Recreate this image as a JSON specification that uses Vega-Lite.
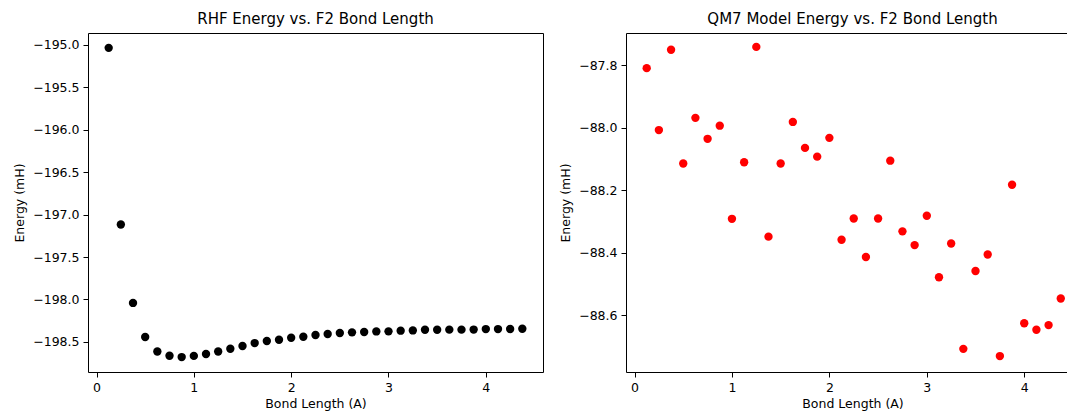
{
  "$schema": "https://vega.github.io/schema/vega-lite/v6.json",
  "padding": {"left": 13, "top": 11, "right": 0, "bottom": 0},
  "bounds": "flush",
  "spacing": 83,
  "background": "white",
  "config": {
    "font": "DejaVu Sans",
    "view": {"stroke": "#000000", "strokeWidth": 1},
    "title": {"fontSize": 15, "fontWeight": "normal", "color": "#000000", "offset": 6, "font": "DejaVu Sans"},
    "axis": {
      "grid": false,
      "domain": false,
      "domainColor": "#000000",
      "labelFont": "DejaVu Sans",
      "labelFontSize": 12.5,
      "labelColor": "#000000",
      "tickColor": "#000000",
      "tickSize": 5,
      "tickWidth": 1,
      "labelPadding": 4,
      "titleFont": "DejaVu Sans",
      "titleFontSize": 12.5,
      "titleFontWeight": "normal",
      "titleColor": "#000000"
    },
    "axisX": {"titlePadding": 4},
    "axisY": {"titlePadding": 6, "labelFlush": false}
  },
  "data": {
    "values": [
      {"r": 0.125, "rhf": -195.035, "qm7": -87.810},
      {"r": 0.25, "rhf": -197.117, "qm7": -88.008},
      {"r": 0.375, "rhf": -198.041, "qm7": -87.751},
      {"r": 0.5, "rhf": -198.443, "qm7": -88.115},
      {"r": 0.625, "rhf": -198.613, "qm7": -87.969},
      {"r": 0.75, "rhf": -198.663, "qm7": -88.036},
      {"r": 0.875, "rhf": -198.679, "qm7": -87.994},
      {"r": 1.0, "rhf": -198.665, "qm7": -88.292},
      {"r": 1.125, "rhf": -198.643, "qm7": -88.111},
      {"r": 1.25, "rhf": -198.613, "qm7": -87.742},
      {"r": 1.375, "rhf": -198.581, "qm7": -88.349},
      {"r": 1.5, "rhf": -198.549, "qm7": -88.115},
      {"r": 1.625, "rhf": -198.514, "qm7": -87.982},
      {"r": 1.75, "rhf": -198.490, "qm7": -88.065},
      {"r": 1.875, "rhf": -198.475, "qm7": -88.093},
      {"r": 2.0, "rhf": -198.451, "qm7": -88.033},
      {"r": 2.125, "rhf": -198.439, "qm7": -88.359},
      {"r": 2.25, "rhf": -198.419, "qm7": -88.291},
      {"r": 2.375, "rhf": -198.407, "qm7": -88.414},
      {"r": 2.5, "rhf": -198.396, "qm7": -88.291},
      {"r": 2.625, "rhf": -198.388, "qm7": -88.106},
      {"r": 2.75, "rhf": -198.384, "qm7": -88.332},
      {"r": 2.875, "rhf": -198.377, "qm7": -88.376},
      {"r": 3.0, "rhf": -198.376, "qm7": -88.282},
      {"r": 3.125, "rhf": -198.368, "qm7": -88.479},
      {"r": 3.25, "rhf": -198.365, "qm7": -88.371},
      {"r": 3.375, "rhf": -198.357, "qm7": -88.708},
      {"r": 3.5, "rhf": -198.357, "qm7": -88.459},
      {"r": 3.625, "rhf": -198.356, "qm7": -88.406},
      {"r": 3.75, "rhf": -198.356, "qm7": -88.731},
      {"r": 3.875, "rhf": -198.355, "qm7": -88.183},
      {"r": 4.0, "rhf": -198.349, "qm7": -88.626},
      {"r": 4.125, "rhf": -198.349, "qm7": -88.647},
      {"r": 4.25, "rhf": -198.348, "qm7": -88.632},
      {"r": 4.375, "rhf": -198.345, "qm7": -88.547}
    ]
  },
  "hconcat": [
    {
      "width": 455,
      "height": 339,
      "title": {"text": "RHF Energy vs. F2 Bond Length"},
      "mark": {"type": "circle", "size": 70, "opacity": 1, "color": "#000000"},
      "encoding": {
        "x": {
          "field": "r", "type": "quantitative",
          "scale": {"domain": [-0.0875, 4.5875], "nice": false, "zero": false},
          "axis": {"values": [0, 1, 2, 3, 4], "format": "d", "title": "Bond Length (A)"}
        },
        "y": {
          "field": "rhf", "type": "quantitative",
          "scale": {"domain": [-198.855, -194.86], "nice": false, "zero": false},
          "axis": {"values": [-198.5, -198.0, -197.5, -197.0, -196.5, -196.0, -195.5, -195.0], "format": ".1f", "title": "Energy (mH)"}
        }
      }
    },
    {
      "width": 441,
      "height": 339,
      "view": {"stroke": null},
      "title": {"text": "QM7 Model Energy vs. F2 Bond Length", "dx": 6},
      "layer": [
        {
          "mark": {"type": "circle", "size": 70, "opacity": 1, "color": "#ff0000"},
          "encoding": {
            "x": {
              "field": "r", "type": "quantitative",
              "scale": {"domain": [-0.0875, 4.439], "nice": false, "zero": false},
              "axis": {"values": [0, 1, 2, 3, 4], "format": "d", "title": "Bond Length (A)", "domain": true, "titleX": 226.5}
            },
            "y": {
              "field": "qm7", "type": "quantitative",
              "scale": {"domain": [-88.782, -87.6975], "nice": false, "zero": false},
              "axis": {"values": [-88.6, -88.4, -88.2, -88.0, -87.8], "format": ".1f", "title": "Energy (mH)", "domain": true}
            }
          }
        },
        {
          "mark": {"type": "circle", "opacity": 0},
          "encoding": {
            "x": {
              "field": "r", "type": "quantitative",
              "axis": {"orient": "top", "labels": false, "ticks": false, "domain": true, "title": null}
            }
          }
        }
      ],
      "resolve": {"axis": {"x": "independent"}}
    }
  ]
}
